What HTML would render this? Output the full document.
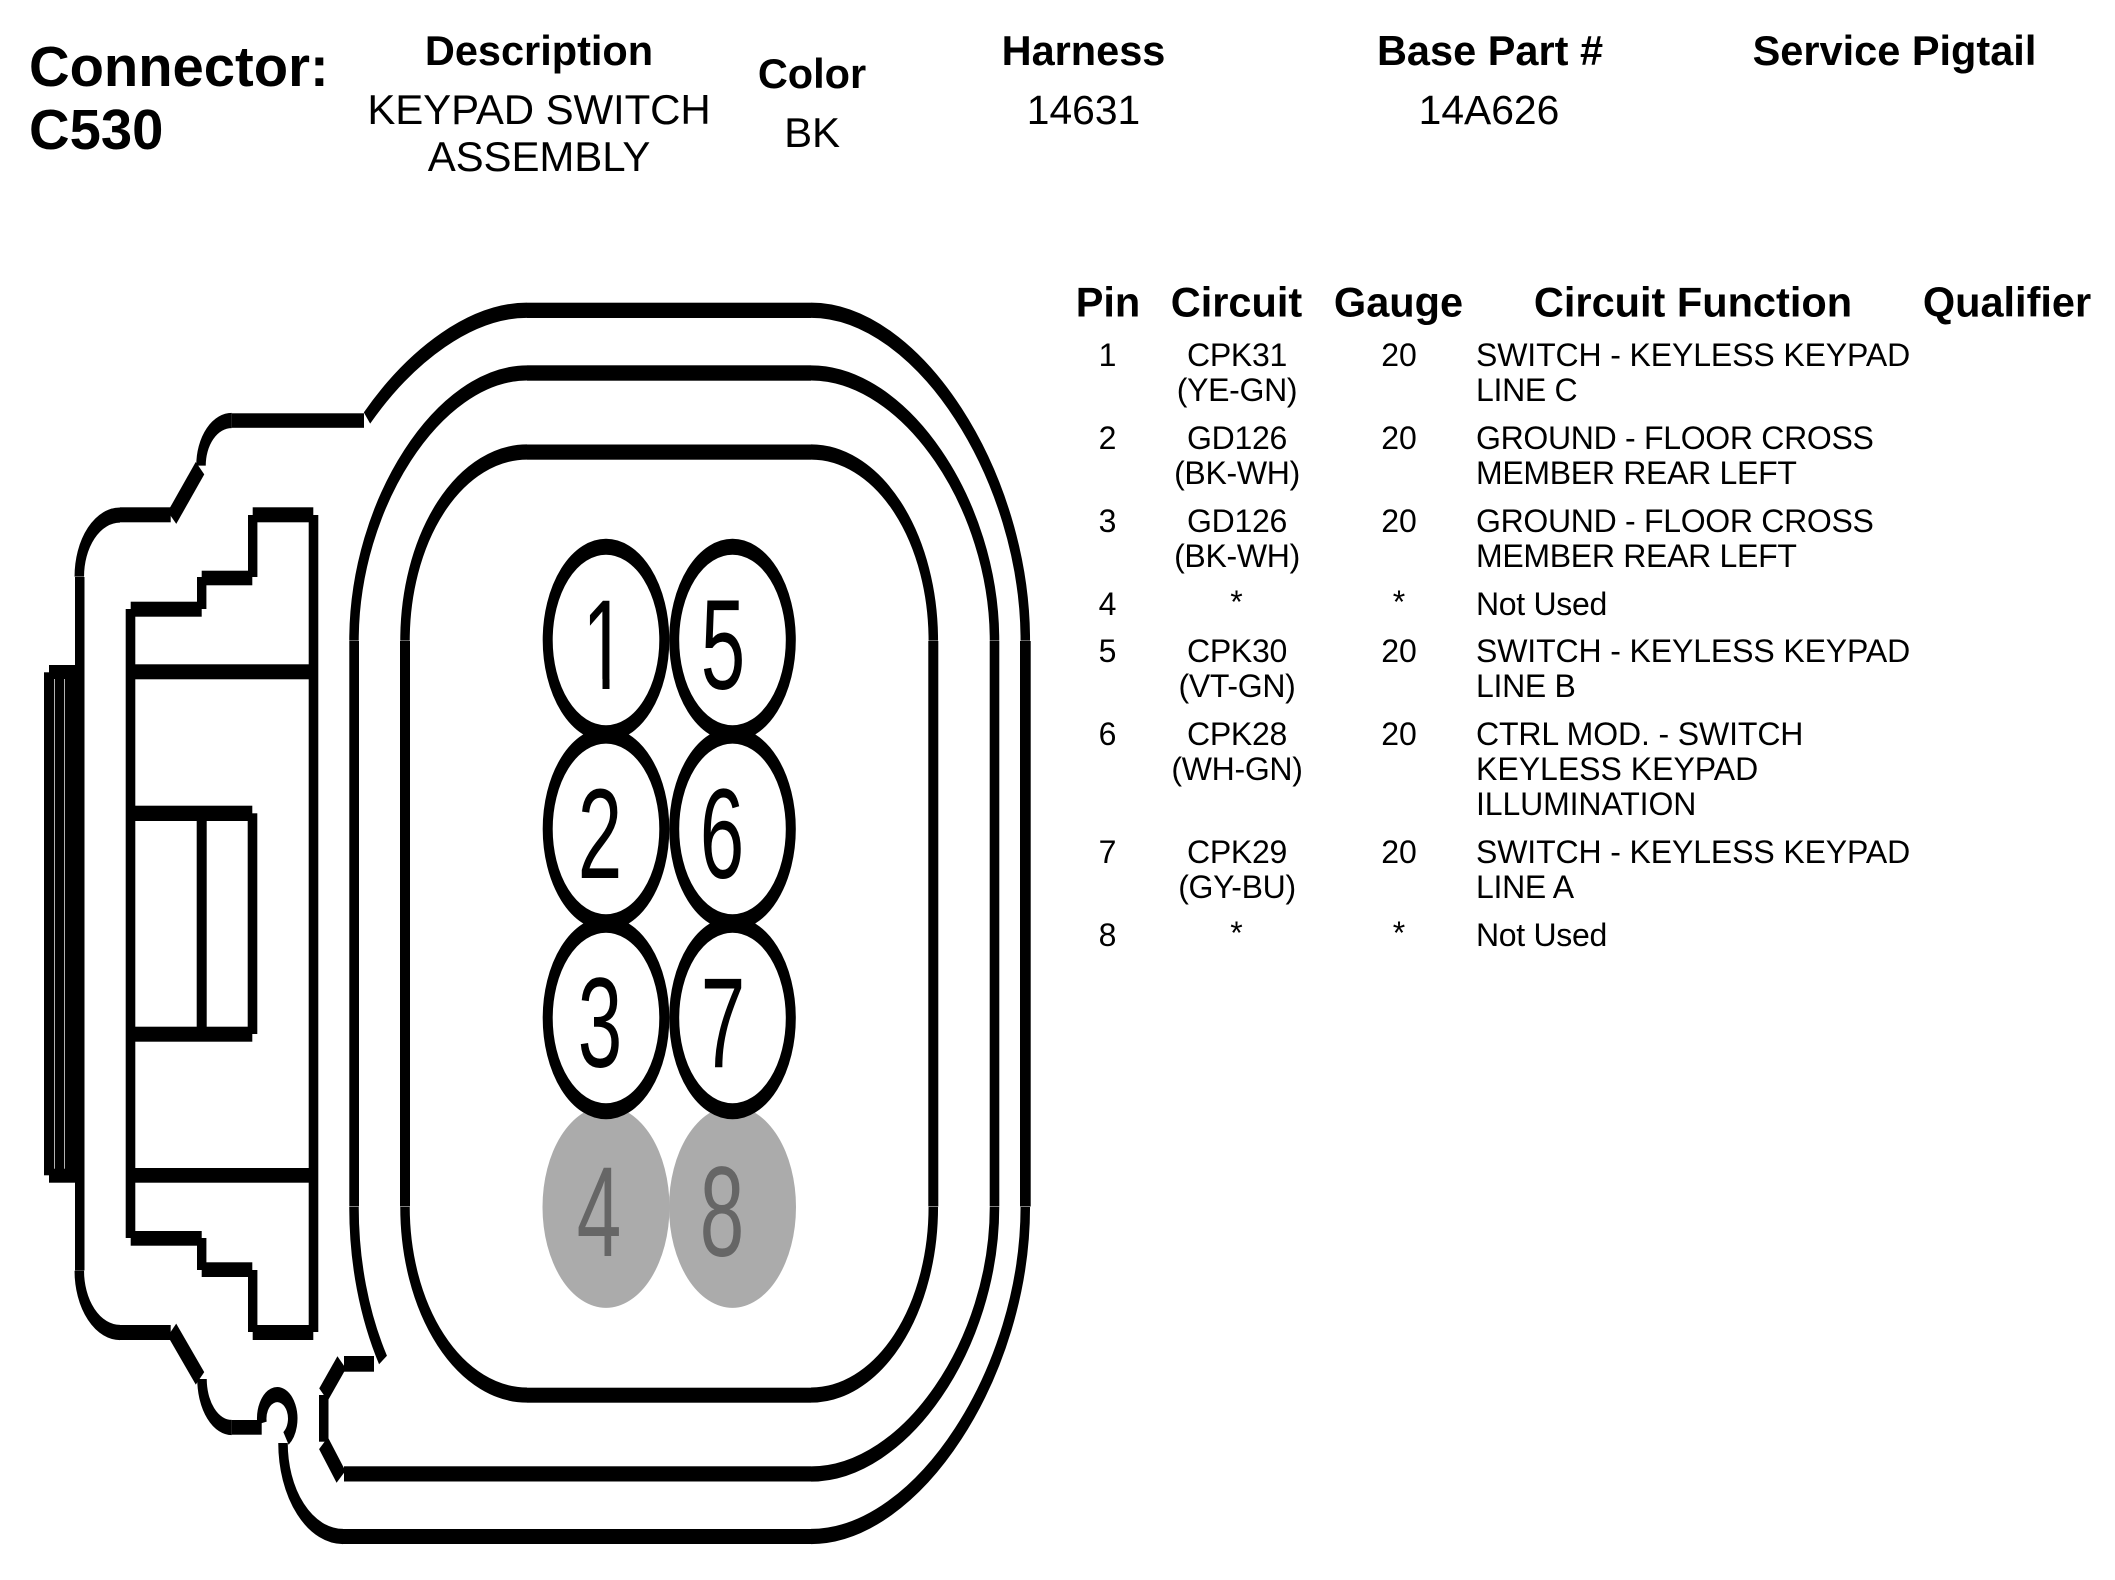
<!DOCTYPE html>
<html><head><meta charset="utf-8"><style>
html,body{margin:0;padding:0;background:#fff;width:2115px;height:1580px;overflow:hidden}
svg{display:block;position:absolute;left:0;top:0}
text{font-family:"Liberation Sans",Arial,sans-serif;fill:#000}
.b{font-weight:bold;font-size:41.5px}
.t{font-size:42px;letter-spacing:-.1px}
.n{font-size:40.8px}
.r{font-size:32px}
.s1{letter-spacing:-.12px}
.s2{letter-spacing:-.3px}
.m{text-anchor:middle}
</style></head><body>
<svg width="2115" height="1580" viewBox="0 0 2115 1580" xmlns="http://www.w3.org/2000/svg">
<rect width="2115" height="1580" fill="#fff"/>

<!-- header -->
<text x="29" y="86" font-weight="bold" font-size="56.2">Connector:</text>
<text x="29" y="149" font-weight="bold" font-size="56.2">C530</text>
<text class="b m" x="539" y="65">Description</text>
<text class="t m" x="539" y="124">KEYPAD SWITCH</text>
<text class="t m" x="539" y="171">ASSEMBLY</text>
<text class="b m" x="812" y="88">Color</text>
<text class="t m" x="812" y="147">BK</text>
<text class="b m" x="1083.5" y="65">Harness</text>
<text class="n m" x="1083.5" y="124">14631</text>
<text class="b m" x="1490" y="65">Base Part #</text>
<text class="n m" x="1489" y="124">14A626</text>
<text class="b m" x="1894.5" y="65">Service Pigtail</text>

<!-- table -->
<text class="b m" x="1108" y="316.5">Pin</text>
<text class="b m" x="1236.5" y="316.5">Circuit</text>
<text class="b m" x="1398.5" y="316.5">Gauge</text>
<text class="b m" x="1693" y="316.5">Circuit Function</text>
<text class="b m" x="2007" y="316.5">Qualifier</text>

<g class="r">
<text class="r m" x="1107.5" y="366">1</text><text class="r m s2" x="1237" y="366">CPK31</text><text class="r m" x="1399" y="366">20</text><text class="r s1" x="1476" y="366">SWITCH - KEYLESS KEYPAD</text>
<text class="r m s2" x="1237" y="401">(YE-GN)</text><text class="r s2" x="1476" y="401">LINE C</text>
<text class="r m" x="1107.5" y="449">2</text><text class="r m s2" x="1237" y="449">GD126</text><text class="r m" x="1399" y="449">20</text><text class="r s2" x="1476" y="449">GROUND - FLOOR CROSS</text>
<text class="r m s2" x="1237" y="484">(BK-WH)</text><text class="r s2" x="1476" y="484">MEMBER REAR LEFT</text>
<text class="r m" x="1107.5" y="532">3</text><text class="r m s2" x="1237" y="532">GD126</text><text class="r m" x="1399" y="532">20</text><text class="r s2" x="1476" y="532">GROUND - FLOOR CROSS</text>
<text class="r m s2" x="1237" y="567">(BK-WH)</text><text class="r s2" x="1476" y="567">MEMBER REAR LEFT</text>
<text class="r m" x="1107.5" y="615">4</text><text class="r m" x="1236.5" y="613">*</text><text class="r m" x="1399" y="613">*</text><text class="r s2" x="1476" y="615">Not Used</text>
<text class="r m" x="1107.5" y="662">5</text><text class="r m s2" x="1237" y="662">CPK30</text><text class="r m" x="1399" y="662">20</text><text class="r s1" x="1476" y="662">SWITCH - KEYLESS KEYPAD</text>
<text class="r m s2" x="1237" y="697">(VT-GN)</text><text class="r s2" x="1476" y="697">LINE B</text>
<text class="r m" x="1107.5" y="745">6</text><text class="r m s2" x="1237" y="745">CPK28</text><text class="r m" x="1399" y="745">20</text><text class="r s1" x="1476" y="745">CTRL MOD. - SWITCH</text>
<text class="r m s2" x="1237" y="780">(WH-GN)</text><text class="r" x="1476" y="780">KEYLESS KEYPAD</text>
<text class="r s1" x="1476" y="815">ILLUMINATION</text>
<text class="r m" x="1107.5" y="863">7</text><text class="r m s2" x="1237" y="863">CPK29</text><text class="r m" x="1399" y="863">20</text><text class="r s1" x="1476" y="863">SWITCH - KEYLESS KEYPAD</text>
<text class="r m s2" x="1237" y="898">(GY-BU)</text><text class="r s2" x="1476" y="898">LINE A</text>
<text class="r m" x="1107.5" y="946">8</text><text class="r m" x="1236.5" y="944">*</text><text class="r m" x="1399" y="944">*</text><text class="r s2" x="1476" y="946">Not Used</text>
</g>

<!-- straight segments -->
<g fill="#000">
<rect x="527" y="302.7" width="284" height="15.3"/>
<rect x="527" y="365.3" width="284" height="15.4"/>
<rect x="527" y="444.5" width="284" height="15.2"/>
<rect x="527" y="1387.7" width="284" height="15"/>
<rect x="344" y="1466.3" width="467" height="15.2"/>
<rect x="343" y="1529" width="468" height="15"/>
<rect x="349.3" y="641" width="9.7" height="565.5"/>
<rect x="400" y="641" width="10" height="565.5"/>
<rect x="928.3" y="641" width="10" height="565.5"/>
<rect x="989.7" y="641" width="9.6" height="565.5"/>
<rect x="1020" y="641" width="10.7" height="565.5"/>
<!-- outer left -->
<rect x="231.7" y="413.3" width="132.3" height="14.5"/>
<rect x="120" y="507.3" width="50.7" height="15"/>
<rect x="75" y="577" width="9.5" height="693.5"/>
<rect x="120" y="1325" width="50.7" height="15"/>
<rect x="231.7" y="1420" width="30" height="14.7"/>
<!-- strips -->
<rect x="44" y="672.3" width="10" height="503"/>
<rect x="54.7" y="672.3" width="9.4" height="503"/>
<rect x="64.8" y="672.3" width="10.2" height="503"/>
<rect x="49" y="665" width="30" height="14"/>
<rect x="49" y="1168.7" width="30" height="14"/>
<!-- latch -->
<rect x="308.7" y="515" width="9.6" height="817"/>
<rect x="252.7" y="507.3" width="60.6" height="15"/>
<rect x="248" y="515" width="9.4" height="62"/>
<rect x="201.7" y="570.7" width="50.6" height="14.6"/>
<rect x="197" y="577" width="9.4" height="32"/>
<rect x="130.7" y="601.7" width="71" height="15"/>
<rect x="125.7" y="609" width="9.6" height="629"/>
<rect x="130" y="664.3" width="183" height="15"/>
<rect x="130" y="1168" width="183" height="14.7"/>
<rect x="130.7" y="1231" width="71" height="14.7"/>
<rect x="197" y="1238" width="9.4" height="32"/>
<rect x="201.7" y="1262.3" width="50.6" height="14.7"/>
<rect x="248" y="1270" width="9.4" height="62"/>
<rect x="252.7" y="1325" width="60.6" height="15"/>
<!-- box -->
<rect x="130" y="805.7" width="122.3" height="15.3"/>
<rect x="130" y="1026.7" width="122.3" height="15"/>
<rect x="247.7" y="813.3" width="9.6" height="220.7"/>
<rect x="196.7" y="815" width="10" height="215"/>
<!-- notch pieces -->
<rect x="319" y="1395" width="9.5" height="46.7"/>
<rect x="344" y="1356" width="30" height="15.7"/>
</g>

<!-- curves: anisotropic pen -->
<g transform="scale(1,1.6)" fill="none" stroke="#000" stroke-width="9.5">
<path d="M405,400.4 A122,117.9 0 0 1 527,282.5"/>
<path d="M811,282.5 A122.3,117.9 0 0 1 933.3,400.4"/>
<path d="M933.3,754.4 A122.3,117.5 0 0 1 811,871.9"/>
<path d="M527,871.9 A122,117.5 0 0 1 405,754.4"/>
<path d="M354,400.4 C354,315 439,233.1 527,233.1"/>
<path d="M811,233.1 C905,233.1 994.5,315 994.5,400.4"/>
<path d="M994.5,754.4 C994.5,840 905,921.25 811,921.25"/>
<path d="M354,754.4 A173,172 0 0 0 383,850"/>
<path d="M811,193.9 C918,193.9 1025.3,297.4 1025.3,400.4"/>
<path d="M1025.3,754.4 C1025.3,857.4 918,960.3 811,960.3"/>
<path d="M527,193.9 C472,193.9 412,221 367,261.25"/>
<path d="M283,901.9 A60,58.4 0 0 0 343,960.3"/>
<path d="M120,321.9 A40.7,38.5 0 0 0 79.3,360.4"/>
<path d="M231.7,262.8 A30.7,28.2 0 0 0 201,291"/>
<path d="M79.3,794.2 A40.7,38.6 0 0 0 120,832.8"/>
<path d="M202,861.9 A29.7,30.3 0 0 0 231.7,892.2"/>
<g stroke-width="11.5">
<path d="M200,292.6 L172,323.6"/>
<path d="M172,831.2 L200,861.5"/>
<path d="M341,923 L323.5,902"/>
<path d="M323.5,871.6 L341.7,851.5"/>
</g>
<path d="M262,889.4 A15.5,15 0 1 1 286,899"/>
</g>

<!-- pins -->
<g transform="scale(1,1.6)">
<g fill="#ababab">
<ellipse cx="606" cy="754.4" rx="63.5" ry="63"/>
<ellipse cx="732.5" cy="754.4" rx="63.5" ry="63"/>
</g>
<g fill="#fff" stroke="#000" stroke-width="10">
<circle cx="606" cy="400" r="58.3"/><circle cx="732.5" cy="400" r="58.3"/>
<circle cx="606" cy="518.1" r="58.3"/><circle cx="732.5" cy="518.1" r="58.3"/>
<circle cx="606" cy="636.25" r="58.3"/><circle cx="732.5" cy="636.25" r="58.3"/>
</g>
<g font-size="80" text-anchor="middle">
<text x="604.5" y="430.6">1</text><text x="723" y="430.6">5</text>
<text x="600" y="548.75">2</text><text x="722" y="548.75">6</text>
<text x="600" y="666.9">3</text><text x="723" y="666.9">7</text>
<text x="599" y="785" style="fill:#666">4</text><text x="722" y="785" style="fill:#666">8</text>
</g>
<!-- trim the foot of the digit 1 -->
<rect x="575" y="424.3" width="27.5" height="8" fill="#fff"/>
<rect x="609.5" y="424.3" width="29" height="8" fill="#fff"/>
</g>
</svg>
</body></html>
